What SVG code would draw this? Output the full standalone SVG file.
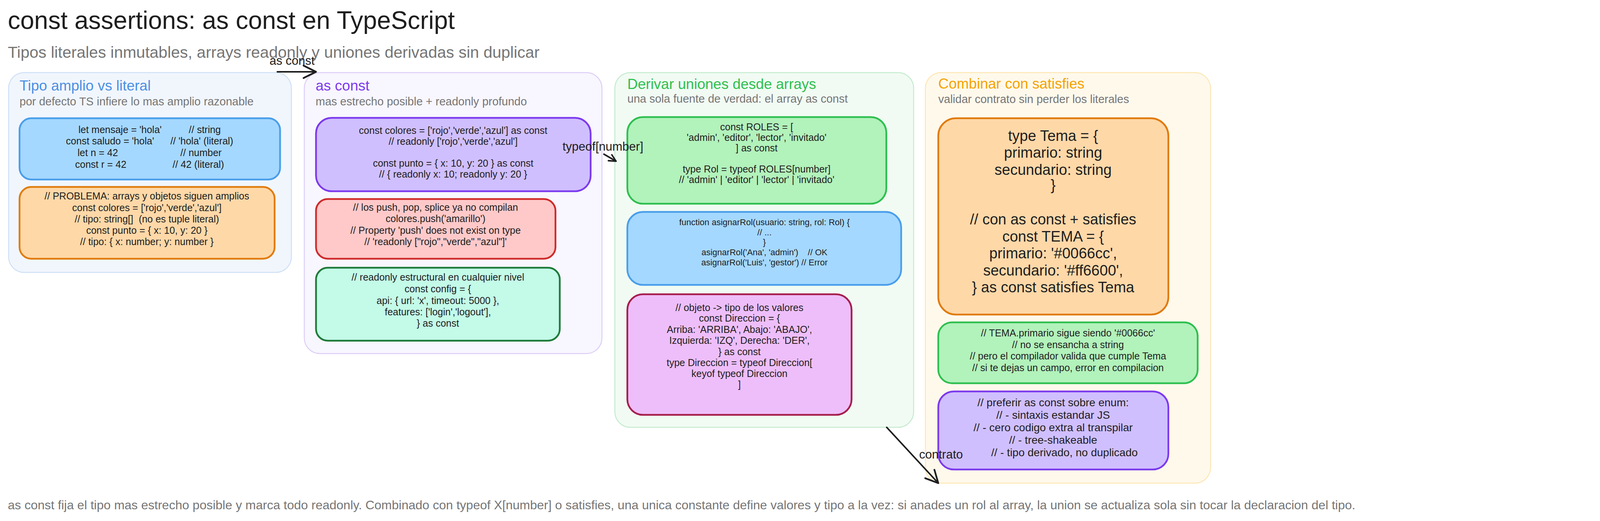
<svg xmlns="http://www.w3.org/2000/svg" width="4240" height="1335" viewBox="0 0 4240 1335">
<style>
text{font-family:"Liberation Sans","DejaVu Sans",sans-serif;fill:#1e1e1e}
.title{font-size:64px}
.sub{font-size:41px;fill:#757575}
.pt{font-size:37px}
.ps{font-size:29px;fill:#757575}
.c{font-size:25px;text-anchor:middle}
.cs{font-size:22px;text-anchor:middle}
.c2{font-size:38px;text-anchor:middle}
.lbl{font-size:31px}
.foot{font-size:32px;fill:#757575}
.panel{stroke-width:2.5}
.box{stroke-width:4.5}
.conn{fill:none;stroke:#1e1e1e;stroke-width:4;stroke-linecap:round}
</style>
<defs>
<marker id="ah" viewBox="0 0 20 20" refX="18" refY="10" markerWidth="40" markerHeight="40" orient="auto" markerUnits="userSpaceOnUse">
<path d="M2,2 L18,10 L2,18" fill="none" stroke="#1e1e1e" stroke-width="2.2" stroke-linecap="round" stroke-linejoin="round"/>
</marker>
<marker id="ahs" viewBox="0 0 20 20" refX="18" refY="10" markerWidth="22" markerHeight="22" orient="auto" markerUnits="userSpaceOnUse">
<path d="M2,2 L18,10 L2,18" fill="none" stroke="#1e1e1e" stroke-width="3.5" stroke-linecap="round" stroke-linejoin="round"/>
</marker>
</defs>
<rect width="4240" height="1335" fill="#ffffff"/>
<text class="title" x="20" y="74">const assertions: as const en TypeScript</text>
<text class="sub" x="20" y="148">Tipos literales inmutables, arrays readonly y uniones derivadas sin duplicar</text>

<g id="panel-tipo">
<rect x="22" y="186" width="724" height="512" rx="40" fill="#f1f6fd" stroke="#cfe0f7" class="panel"/>
<text class="pt" x="50" y="232" style="fill:#4a90e2">Tipo amplio vs literal</text>
<text class="ps" x="50" y="270">por defecto TS infiere lo mas amplio razonable</text>
</g>
<g id="box-amplio">
<rect x="50" y="303" width="667" height="157" rx="30" fill="#a5d8ff" stroke="#4a9eea" class="box"/>
<text class="c" x="383" y="341" xml:space="preserve">let mensaje = 'hola'          // string</text>
<text class="c" x="383" y="370" xml:space="preserve">const saludo = 'hola'      // 'hola' (literal)</text>
<text class="c" x="383" y="400" xml:space="preserve">let n = 42                       // number</text>
<text class="c" x="383" y="430" xml:space="preserve">const r = 42                 // 42 (literal)</text>
</g>
<g id="box-problema">
<rect x="50" y="479" width="653" height="184" rx="30" fill="#ffd8a8" stroke="#e07b0c" class="box"/>
<text class="c" x="376" y="511">// PROBLEMA: arrays y objetos siguen amplios</text>
<text class="c" x="376" y="541">const colores = ['rojo','verde','azul']</text>
<text class="c" x="376" y="570" xml:space="preserve">// tipo: string[]  (no es tuple literal)</text>
<text class="c" x="376" y="599">const punto = { x: 10, y: 20 }</text>
<text class="c" x="376" y="628">// tipo: { x: number; y: number }</text>
</g>

<g id="panel-asconst">
<rect x="779" y="186" width="762" height="720" rx="40" fill="#f8f6fe" stroke="#dccff7" class="panel"/>
<text class="pt" x="808" y="232" style="fill:#7c3aed">as const</text>
<text class="ps" x="808" y="270">mas estrecho posible + readonly profundo</text>
</g>
<g id="box-asconst">
<rect x="809" y="302" width="703" height="188" rx="40" fill="#d0bfff" stroke="#7c3aed" class="box"/>
<text class="c" x="1160" y="343">const colores = ['rojo','verde','azul'] as const</text>
<text class="c" x="1160" y="371">// readonly ['rojo','verde','azul']</text>
<text class="c" x="1160" y="427">const punto = { x: 10, y: 20 } as const</text>
<text class="c" x="1160" y="455">// { readonly x: 10; readonly y: 20 }</text>
</g>
<g id="box-push">
<rect x="809" y="510" width="613" height="153" rx="30" fill="#ffc9c9" stroke="#cf2b2b" class="box"/>
<text class="c" x="1115" y="540">// los push, pop, splice ya no compilan</text>
<text class="c" x="1115" y="569">colores.push('amarillo')</text>
<text class="c" x="1115" y="599">// Property 'push' does not exist on type</text>
<text class="c" x="1115" y="628">// 'readonly ["rojo","verde","azul"]'</text>
</g>
<g id="box-config">
<rect x="809" y="686" width="624" height="187" rx="30" fill="#c3fae8" stroke="#1e7b3a" class="box"/>
<text class="c" x="1121" y="719">// readonly estructural en cualquier nivel</text>
<text class="c" x="1121" y="749">const config = {</text>
<text class="c" x="1121" y="779">api: { url: 'x', timeout: 5000 },</text>
<text class="c" x="1121" y="808">features: ['login','logout'],</text>
<text class="c" x="1121" y="837">} as const</text>
</g>

<g id="panel-derivar">
<rect x="1574" y="186" width="765" height="909" rx="40" fill="#f1fbf3" stroke="#c5ebcf" class="panel"/>
<text class="pt" x="1606" y="228" style="fill:#2fbf50">Derivar uniones desde arrays</text>
<text class="ps" x="1606" y="263">una sola fuente de verdad: el array as const</text>
</g>
<g id="box-roles">
<rect x="1606" y="300" width="663" height="222" rx="40" fill="#b2f2bb" stroke="#2fbf50" class="box"/>
<text class="c" x="1937" y="334">const ROLES = [</text>
<text class="c" x="1937" y="361">'admin', 'editor', 'lector', 'invitado'</text>
<text class="c" x="1937" y="388">] as const</text>
<text class="c" x="1937" y="442">type Rol = typeof ROLES[number]</text>
<text class="c" x="1937" y="469">// 'admin' | 'editor' | 'lector' | 'invitado'</text>
</g>
<g id="box-asignar">
<rect x="1606" y="543" width="701" height="187" rx="40" fill="#a5d8ff" stroke="#4a9eea" class="box"/>
<text class="cs" x="1957" y="577">function asignarRol(usuario: string, rol: Rol) {</text>
<text class="cs" x="1957" y="603">// ...</text>
<text class="cs" x="1957" y="628">}</text>
<text class="cs" x="1957" y="654" xml:space="preserve">asignarRol('Ana', 'admin')    // OK</text>
<text class="cs" x="1957" y="680">asignarRol('Luis', 'gestor') // Error</text>
</g>
<g id="box-direccion">
<rect x="1606" y="754" width="574" height="309" rx="40" fill="#eebefa" stroke="#a61e4d" class="box"/>
<text class="c" x="1893" y="797">// objeto -&gt; tipo de los valores</text>
<text class="c" x="1893" y="824">const Direccion = {</text>
<text class="c" x="1893" y="853">Arriba: 'ARRIBA', Abajo: 'ABAJO',</text>
<text class="c" x="1893" y="881">Izquierda: 'IZQ', Derecha: 'DER',</text>
<text class="c" x="1893" y="910">} as const</text>
<text class="c" x="1893" y="938">type Direccion = typeof Direccion[</text>
<text class="c" x="1893" y="966">keyof typeof Direccion</text>
<text class="c" x="1893" y="994">]</text>
</g>

<g id="panel-satisfies">
<rect x="2369" y="186" width="730" height="1052" rx="40" fill="#fff9ec" stroke="#fde7b5" class="panel"/>
<text class="pt" x="2402" y="227" style="fill:#f5a300">Combinar con satisfies</text>
<text class="ps" x="2402" y="264">validar contrato sin perder los literales</text>
</g>
<g id="box-tema">
<rect x="2402" y="303" width="589" height="503" rx="45" fill="#ffd8a8" stroke="#e07b0c" class="box"/>
<text class="c2" x="2696" y="361">type Tema = {</text>
<text class="c2" x="2696" y="404">primario: string</text>
<text class="c2" x="2696" y="448">secundario: string</text>
<text class="c2" x="2696" y="487">}</text>
<text class="c2" x="2696" y="575">// con as const + satisfies</text>
<text class="c2" x="2696" y="619">const TEMA = {</text>
<text class="c2" x="2696" y="662">primario: '#0066cc',</text>
<text class="c2" x="2696" y="706">secundario: '#ff6600',</text>
<text class="c2" x="2696" y="749">} as const satisfies Tema</text>
</g>
<g id="box-tema-primario">
<rect x="2402" y="826" width="664" height="156" rx="35" fill="#b2f2bb" stroke="#2fbf50" class="box"/>
<text class="c" x="2734" y="862">// TEMA.primario sigue siendo '#0066cc'</text>
<text class="c" x="2734" y="892">// no se ensancha a string</text>
<text class="c" x="2734" y="921">// pero el compilador valida que cumple Tema</text>
<text class="c" x="2734" y="951">// si te dejas un campo, error en compilacion</text>
</g>
<g id="box-enum">
<rect x="2402" y="1003" width="589" height="200" rx="40" fill="#d0bfff" stroke="#7c3aed" class="box"/>
<text class="c" x="2696" y="1041" style="font-size:28px">// preferir as const sobre enum:</text>
<text class="c" x="2696" y="1073" style="font-size:28px">// - sintaxis estandar JS</text>
<text class="c" x="2696" y="1105" style="font-size:28px">// - cero codigo extra al transpilar</text>
<text class="c" x="2696" y="1137" style="font-size:28px">// - tree-shakeable</text>
<text class="c" x="2725" y="1169" style="font-size:28px">// - tipo derivado, no duplicado</text>
</g>

<g id="connectors">
<path class="conn" d="M710,184 L809,184" marker-end="url(#ah)"/>
<text class="lbl" x="690" y="166">as const</text>
<path class="conn" d="M1546,395 L1577,413" marker-end="url(#ahs)"/>
<text class="lbl" x="1440" y="386">typeof[number]</text>
<path class="conn" d="M2270,1095 L2402,1238" marker-end="url(#ah)"/>
<text class="lbl" x="2353" y="1175">contrato</text>
</g>

<text class="foot" x="20" y="1305">as const fija el tipo mas estrecho posible y marca todo readonly. Combinado con typeof X[number] o satisfies, una unica constante define valores y tipo a la vez: si anades un rol al array, la union se actualiza sola sin tocar la declaracion del tipo.</text>
</svg>
